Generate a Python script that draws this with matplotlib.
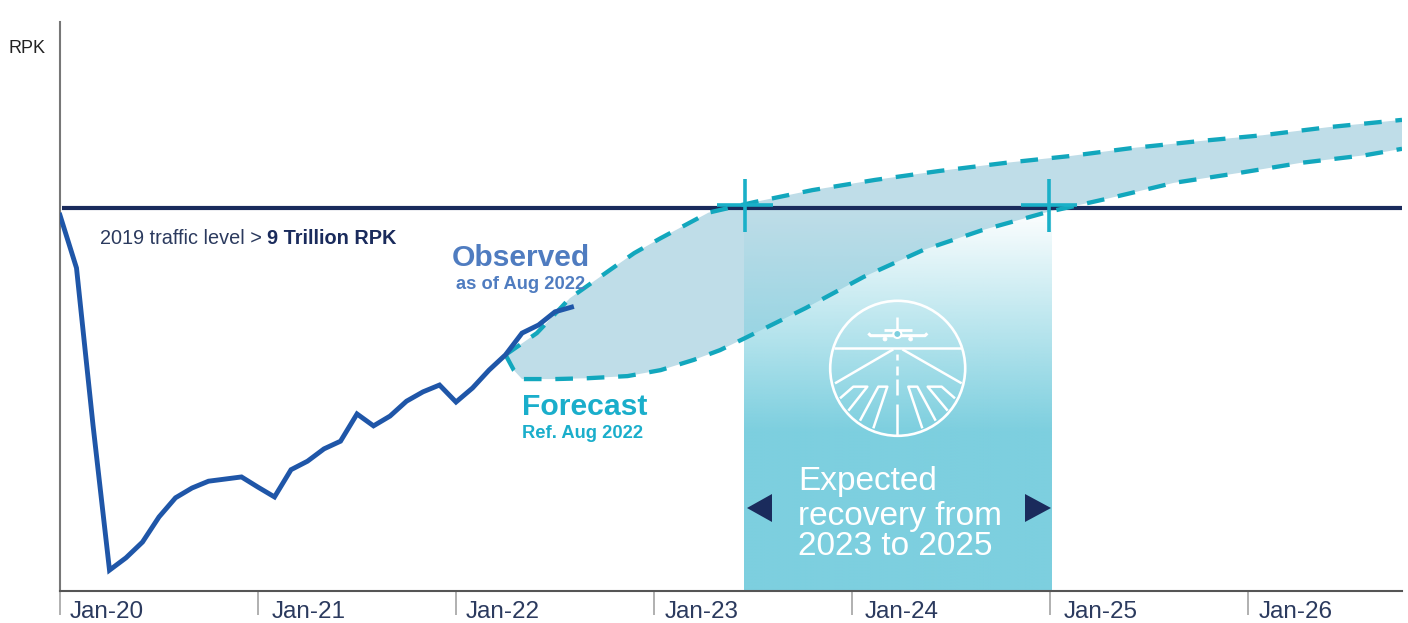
import numpy as np
import matplotlib
matplotlib.use("Agg")
import matplotlib.pyplot as plt
from matplotlib.colors import to_rgb
from matplotlib.patches import Circle, Polygon
from matplotlib.transforms import ScaledTranslation

plt.rcParams['font.family'] = ['Liberation Sans', 'DejaVu Sans']

# x is months since Jan-20, y is trillion RPK
tick_months = [0, 12, 24, 36, 48, 60, 72]
tick_labels = ['Jan-20', 'Jan-21', 'Jan-22', 'Jan-23', 'Jan-24', 'Jan-25', 'Jan-26']
label_shift = [10, 14, 10, 11, 13, 14, 11]

level_2019 = 9.0
recovery_start = 41.45
recovery_end = 60.06

observed_months = list(range(32))
observed = [8.83, 7.59, 3.9, 0.49, 0.78, 1.15, 1.74, 2.19, 2.42, 2.58, 2.63, 2.68,
            2.44, 2.21, 2.85, 3.05, 3.34, 3.52, 4.16, 3.88, 4.11, 4.46, 4.68, 4.84,
            4.44, 4.77, 5.19, 5.55, 6.06, 6.25, 6.56, 6.67]

forecast_high_months = [27, 28.9, 30.9, 33.5, 34.8, 36.4, 37.9, 39.3, 42.1, 45.6, 49.4, 53.3,
                        57.3, 61.2, 65, 69, 72.9, 76.9, 81.33]
forecast_high = [5.55, 6.06, 6.88, 7.59, 7.94, 8.29, 8.6, 8.89, 9.14, 9.42, 9.66, 9.87,
                 10.06, 10.22, 10.41, 10.57, 10.71, 10.9, 11.07]
forecast_low_months = [27, 27.5, 28, 30, 32, 34.4, 36.4, 38.4, 40, 41.5, 45.2, 48.7, 52.3,
                       55.9, 59.8, 63.6, 67.5, 71.4, 75.2, 79.1, 81.33]
forecast_low = [5.55, 5.19, 4.98, 4.98, 5.0, 5.05, 5.19, 5.43, 5.66, 5.94, 6.65, 7.38, 8.01,
                8.48, 8.9, 9.23, 9.59, 9.82, 10.06, 10.24, 10.39]

NAVY = '#1a2b5c'
TEXT = '#2b3a5e'
TEAL = '#12a7bd'
BAND = '#7dcfdf'
DASH = (0, (4.1, 3.2))

fig = plt.figure(figsize=(14.08, 6.23), dpi=100)
ax = fig.add_axes([60 / 1408, 1 - 591 / 623, 1342 / 1408, 569 / 623])

ax.fill(forecast_high_months + forecast_low_months[::-1], forecast_high + forecast_low[::-1],
        color='#bfdde8', lw=0, zorder=1)

# band fades out towards the 2019 line
grad = np.zeros((256, 1, 4))
grad[:, :, :3] = to_rgb(BAND)
grad[:, 0, 3] = np.clip(np.linspace(1.72, 0, 256), 0, 1)
ax.imshow(grad, extent=[recovery_start, recovery_end, 0, level_2019], origin='lower',
          aspect='auto', zorder=2, interpolation='bilinear')

ax.plot([0.12, 81.33], [level_2019, level_2019], color=NAVY, lw=3, solid_capstyle='butt', zorder=3)
ax.plot(forecast_high_months, forecast_high, color=TEAL, lw=3.1, ls=DASH, zorder=4)
ax.plot(forecast_low_months, forecast_low, color=TEAL, lw=3.1, ls=DASH, zorder=4)
ax.plot(observed_months, observed, color='#1f56a8', lw=3.5, solid_joinstyle='miter', zorder=5)

ax.set_xlim(0, 81.33)
ax.set_ylim(0, 13.37)
ax.set_yticks([])
ax.set_xticks(tick_months)
ax.set_xticklabels(tick_labels, fontsize=17.5, color=TEXT, ha='left')
ax.tick_params(axis='x', length=17, width=1.3, color='#aaaaaa', pad=-10)
for lab, sh in zip(ax.get_xticklabels(), label_shift):
    lab.set_transform(lab.get_transform() + ScaledTranslation(sh / 100, 0, fig.dpi_scale_trans))
ax.spines['top'].set_visible(False)
ax.spines['right'].set_visible(False)
ax.spines['left'].set_color('#777777')
ax.spines['left'].set_linewidth(1.5)
ax.spines['bottom'].set_color('#555555')
ax.spines['bottom'].set_linewidth(1.5)

# overlay in picture pixels for labels and the runway icon
ov = fig.add_axes([0, 0, 1, 1], zorder=10)
ov.set_xlim(0, 1408)
ov.set_ylim(623, 0)
ov.axis('off')

ov.text(8, 53, 'RPK', fontsize=13, color='#222222')
ov.text(100, 244, '2019 traffic level >', fontsize=14.3, color=TEXT)
ov.text(267, 244, '9 Trillion RPK', fontsize=14.3, color=NAVY, fontweight='bold')
ov.text(452, 266, 'Observed', fontsize=21.6, color='#4f7cc0', fontweight='bold')
ov.text(456, 289, 'as of Aug 2022', fontsize=13.2, color='#4f7cc0', fontweight='bold')
ov.text(522, 415, 'Forecast', fontsize=21.7, color='#1aaecb', fontweight='bold')
ov.text(522, 438, 'Ref. Aug 2022', fontsize=13.2, color='#1aaecb', fontweight='bold')
ov.text(798, 490, 'Expected', fontsize=24, color='white')
ov.text(798, 525, 'recovery from', fontsize=24, color='white')
ov.text(798, 555, '2023 to 2025', fontsize=24, color='white')

# crosses where the forecast meets the 2019 level
for cx in [745, 1049]:
    ov.plot([cx, cx], [179, 232], color='#1ab0c8', lw=2.6, solid_capstyle='butt')
    ov.plot([cx - 28, cx + 28], [205, 205], color='#1ab0c8', lw=2.6, solid_capstyle='butt')

ov.add_patch(Polygon([(747, 508), (772, 494), (772, 522)], color=NAVY, lw=0))
ov.add_patch(Polygon([(1051, 508), (1025, 494), (1025, 522)], color=NAVY, lw=0))


def iz(pts):
    return [(740 + a / 3, 280 + b / 3) for a, b in pts]


def stroke(pts, lw=1.8):
    p = iz(pts)
    ov.plot([q[0] for q in p], [q[1] for q in p], color='white', lw=lw, solid_capstyle='butt')


ov.add_patch(Circle((897.7, 368.3), 67.5, fill=False, ec='white', lw=1.9))
stroke([(283, 205), (665, 205)])
stroke([(460, 208), (285, 310)])
stroke([(487, 208), (665, 310)])
for a, b in [(222, 240), (258, 285), (298, 345), (372, 465)]:
    stroke([(472, a), (472, b)])
stroke([(300, 355), (340, 320), (382, 320), (325, 392)])
stroke([(360, 422), (415, 320), (442, 320), (400, 445)])
stroke([(645, 355), (605, 320), (563, 320), (623, 392)])
stroke([(587, 422), (532, 320), (505, 320), (547, 445)])
# plane
stroke([(472, 112), (472, 150)])
stroke([(432, 150), (515, 150)], lw=2)
stroke([(385, 160), (392, 167), (555, 167), (562, 160)], lw=2.2)
ov.add_patch(Circle((740 + 472 / 3, 280 + 162 / 3), 4, fc=BAND, ec='white', lw=1.5, zorder=5))
for cx, cy in [(435, 177), (512, 177)]:
    ov.add_patch(Circle((740 + cx / 3, 280 + cy / 3), 2, fc='white', ec='white', lw=0.5))

fig.savefig('out.png', dpi=100)
